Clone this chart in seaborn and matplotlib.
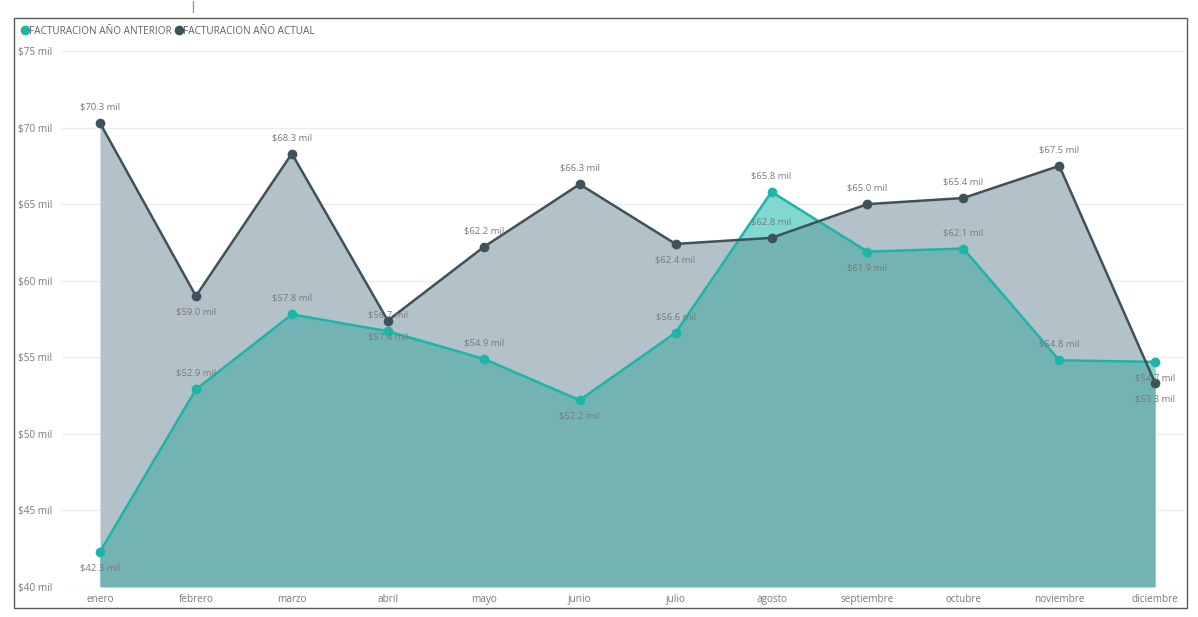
import numpy as np
import pandas as pd
import matplotlib
matplotlib.use("Agg")
import matplotlib.pyplot as plt
import seaborn as sns
from matplotlib.lines import Line2D
from matplotlib.patches import Rectangle

months = ["enero", "febrero", "marzo", "abril", "mayo", "junio", "julio",
          "agosto", "septiembre", "octubre", "noviembre", "diciembre"]
anterior = [42.3, 52.9, 57.8, 56.7, 54.9, 52.2, 56.6, 65.8, 61.9, 62.1, 54.8, 54.7]
actual = [70.3, 59.0, 68.3, 57.4, 62.2, 66.3, 62.4, 62.8, 65.0, 65.4, 67.5, 53.3]
# label placement: 1 above, -1 below
anterior_pos = [-1, 1, 1, 1, 1, -1, 1, 1, -1, 1, 1, -1]
actual_pos = [1, -1, 1, -1, 1, 1, -1, 1, 1, 1, 1, -1]
yticks = [40, 45, 50, 55, 60, 65, 70, 75]
name_ant = "FACTURACION AÑO ANTERIOR"
name_act = "FACTURACION AÑO ACTUAL"

sns.set_theme(style="white")
plt.rcParams['font.family'] = ['Open Sans', 'DejaVu Sans']

C_TEAL = "#1cb5a8"
C_DARK = "#3d525b"
F_GREY = "#b3c1c8"
F_OVER = "#74b3b4"
F_TEAL = "#80d8cf"
TXT = "#7a7a7a"

W, H = 1198, 617
fig = plt.figure(figsize=(W / 100, H / 100), dpi=100)
ax = fig.add_axes([62 / W, 1 - 587 / H, (1185 - 62) / W, (587 - 51) / H])

x = np.arange(len(months))
a = np.array(anterior)
b = np.array(actual)
base = 40
poly_b = ax.fill_between(x, base, b, color=F_GREY, lw=0, zorder=1)
ax.fill_between(x, base, a, color=F_TEAL, lw=0, zorder=1.1)
poly_o = ax.fill_between(x, base, a, color=F_OVER, lw=0, zorder=1.2)
poly_o.set_clip_path(poly_b.get_paths()[0], transform=ax.transData)

df = pd.DataFrame({"mes": np.concatenate([x, x]),
                   "valor": np.concatenate([a, b]),
                   "serie": [name_ant] * len(x) + [name_act] * len(x)})
sns.lineplot(data=df, x="mes", y="valor", hue="serie",
             palette={name_ant: C_TEAL, name_act: C_DARK},
             marker="o", markersize=7, markeredgewidth=0, linewidth=1.8,
             ax=ax, legend=False, zorder=3)

for xi, v, p in zip(x, b, actual_pos):
    ax.annotate(f"${v:.1f} mil", (xi, v), xytext=(0, 11.5 * p), textcoords="offset points",
                ha="center", va="center", fontsize=6.8, color=TXT, zorder=4)
for xi, v, p in zip(x, a, anterior_pos):
    ax.annotate(f"${v:.1f} mil", (xi, v), xytext=(0, 11.5 * p), textcoords="offset points",
                ha="center", va="center", fontsize=6.8, color=TXT, zorder=4)

ax.set_xlim(-0.396, 11.31)
ax.set_ylim(40, 75)
ax.set_yticks(yticks)
ax.set_yticklabels([f"${t} mil" for t in yticks])
ax.set_xticks(x)
ax.set_xticklabels(months)
ax.tick_params(axis="both", length=0, labelsize=7.2, labelcolor=TXT)
ax.tick_params(axis="y", pad=7)
ax.tick_params(axis="x", pad=5)
ax.grid(axis="y", color="#ececec", lw=0.9, zorder=0)
ax.set_axisbelow(True)
for s in ax.spines.values():
    s.set_visible(False)
ax.set_xlabel("")
ax.set_ylabel("")

handles = [Line2D([], [], marker="o", color="none", markerfacecolor=C_TEAL, markeredgewidth=0, markersize=7, label=name_ant),
           Line2D([], [], marker="o", color="none", markerfacecolor=C_DARK, markeredgewidth=0, markersize=7, label=name_act)]
fig.legend(handles=handles, loc="center left", bbox_to_anchor=(22 / W, 1 - 31 / H), ncol=2,
           frameon=False, fontsize=7.2, handlelength=0.6, handletextpad=0.1,
           columnspacing=0.4, borderaxespad=0, borderpad=0, labelcolor="#606060")

fig.patches.append(Rectangle((14 / W, 1 - 608 / H), (1187 - 14) / W, (608 - 18) / H,
                             transform=fig.transFigure, fill=False, edgecolor="#5a5a5a", lw=1))
fig.add_artist(Line2D([193 / W, 193 / W], [1 - 1 / H, 1 - 12 / H], transform=fig.transFigure,
                      color="#9a9a9a", lw=1))

fig.savefig("out.png", dpi=100)
